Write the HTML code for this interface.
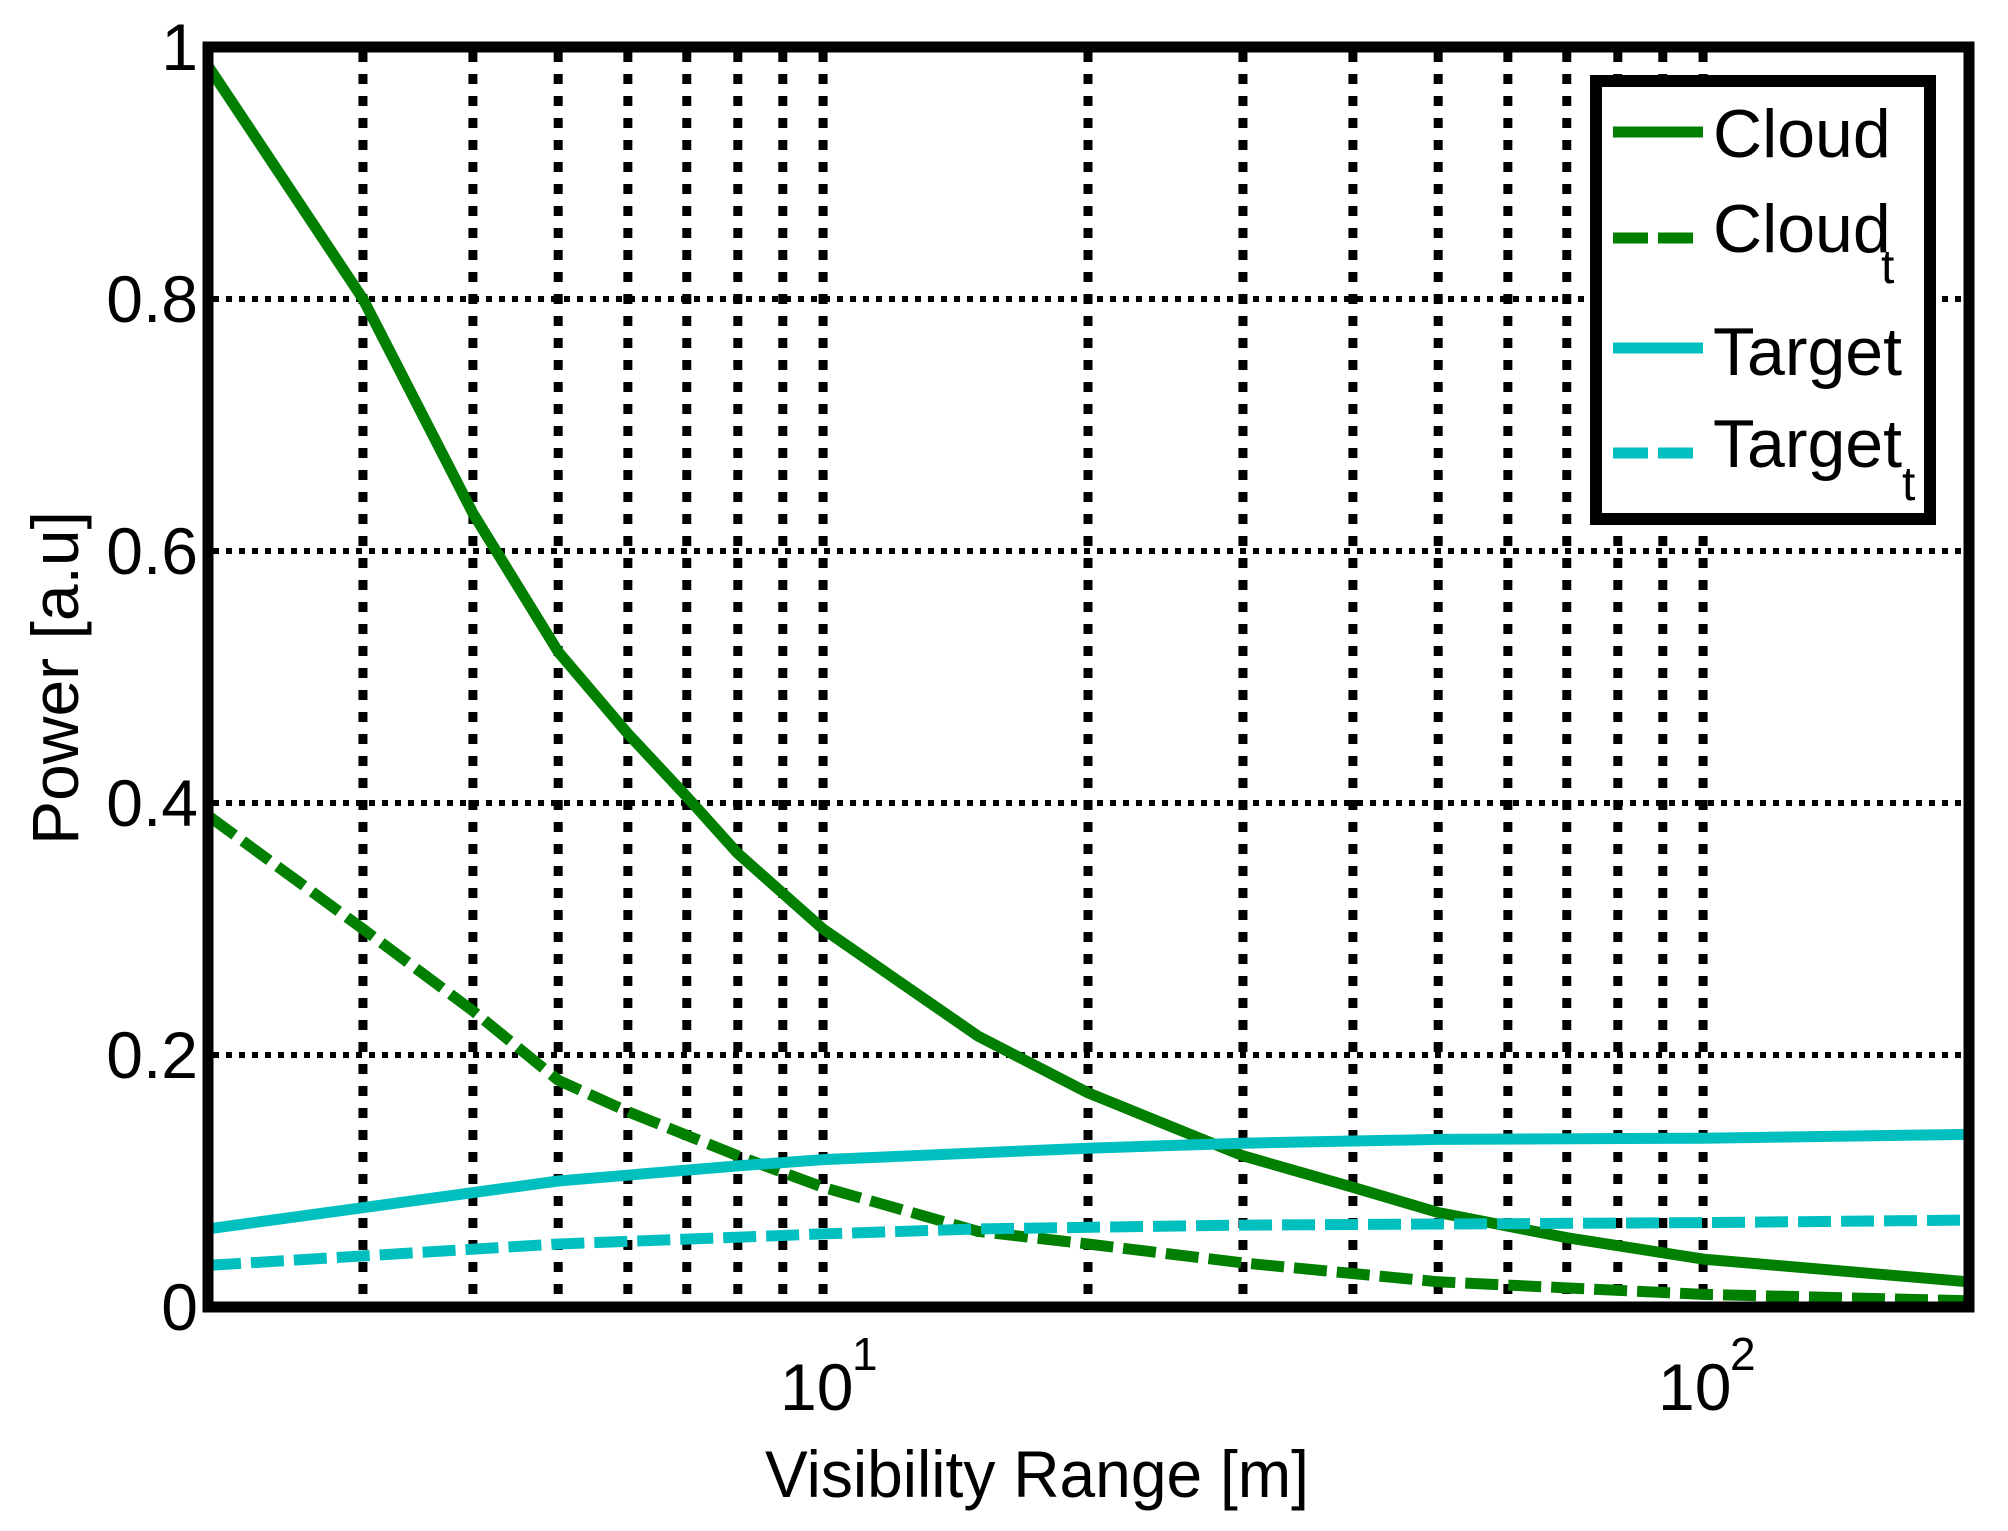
<!DOCTYPE html>
<html><head><meta charset="utf-8"><style>
html,body{margin:0;padding:0;background:#fff;}
svg{display:block;}
text{font-family:"Liberation Sans",sans-serif;fill:#000;}
</style></head><body>
<svg id="s" width="2008" height="1531" viewBox="0 0 2008 1531" xmlns="http://www.w3.org/2000/svg">
<rect width="2008" height="1531" fill="#fff"/>
<g id="grid"></g>
<g id="curves" fill="none" stroke-linejoin="round"></g>
<rect x="208" y="47" width="1761" height="1260" fill="none" stroke="#000" stroke-width="11"/>
<g font-size="66" text-anchor="end">
<text x="198" y="70">1</text>
<text x="198" y="322">0.8</text>
<text x="198" y="574">0.6</text>
<text x="198" y="826">0.4</text>
<text x="198" y="1078">0.2</text>
<text x="198" y="1330">0</text>
</g>
<g font-size="66">
<text x="780" y="1410">10</text><text x="852" y="1370" font-size="46">1</text>
<text x="1658" y="1410">10</text><text x="1730" y="1370" font-size="46">2</text>
<text x="1037" y="1497" text-anchor="middle" textLength="544" lengthAdjust="spacingAndGlyphs">Visibility Range [m]</text>
<text transform="translate(78,678) rotate(-90)" text-anchor="middle">Power [a.u]</text>
</g>
<rect x="1596" y="81" width="334" height="438" fill="#fff" stroke="#000" stroke-width="12"/>
<g stroke-width="11">
<line x1="1613" y1="132" x2="1703" y2="132" stroke="#007F00"/>
<line x1="1613" y1="238" x2="1703" y2="238" stroke="#007F00" stroke-dasharray="35 10"/>
<line x1="1613" y1="348" x2="1703" y2="348" stroke="#00BFBF"/>
<line x1="1613" y1="453" x2="1703" y2="453" stroke="#00BFBF" stroke-dasharray="35 10"/>
</g>
<g font-size="68">
<text x="1713" y="157">Cloud</text>
<text x="1713" y="252">Cloud</text><text x="1881" y="283" font-size="48">t</text>
<text x="1713" y="375">Target</text>
<text x="1713" y="467">Target</text><text x="1902" y="500" font-size="48">t</text>
</g>
</svg>
<script>
var L=208,D=880,B=1307,U=1260;
function X(v){return L+D*Math.log10(v/2);}
function Y(v){return B-U*v;}
var ns="http://www.w3.org/2000/svg",g=document.getElementById('grid'),c=document.getElementById('curves');
function el(p,a){var e=document.createElementNS(ns,'line');for(var k in a)e.setAttribute(k,a[k]);p.appendChild(e);}
[3,4,5,6,7,8,9,10,20,30,40,50,60,70,80,90,100].forEach(function(v){var x=X(v);el(g,{x1:x,y1:52,x2:x,y2:1302,stroke:'#000','stroke-width':9,'stroke-dasharray':'10 12'});});
[0.2,0.4,0.6,0.8].forEach(function(v){var y=Y(v);el(g,{x1:213,y1:y,x2:1964,y2:y,stroke:'#000','stroke-width':6,'stroke-dasharray':'6 7'});});
function curve(pts,col,dash){var d=pts.map(function(p,i){return (i?'L':'M')+X(p[0]).toFixed(1)+' '+Y(p[1]).toFixed(1);}).join(' ');
var e=document.createElementNS(ns,'path');e.setAttribute('d',d);e.setAttribute('stroke',col);e.setAttribute('stroke-width',11);if(dash)e.setAttribute('stroke-dasharray',dash);c.appendChild(e);}
curve([[2,0.985],[3,0.8],[4,0.63],[5,0.52],[6,0.455],[7,0.405],[8,0.36],[10,0.30],[15,0.215],[20,0.17],[30,0.12],[40,0.095],[50,0.075],[70,0.055],[100,0.038],[200,0.02]],'#007F00');
curve([[2,0.39],[3,0.3],[4,0.235],[5,0.18],[6,0.155],[8,0.12],[10,0.095],[15,0.06],[20,0.05],[30,0.035],[50,0.02],[100,0.01],[200,0.005]],'#007F00','33 10');
curve([[2,0.062],[5,0.1],[8,0.112],[10,0.117],[20,0.126],[30,0.13],[50,0.133],[100,0.134],[200,0.137]],'#00BFBF');
curve([[2,0.033],[5,0.05],[10,0.058],[15,0.062],[30,0.065],[100,0.067],[200,0.069]],'#00BFBF','33 10');
</script>
</body></html>
